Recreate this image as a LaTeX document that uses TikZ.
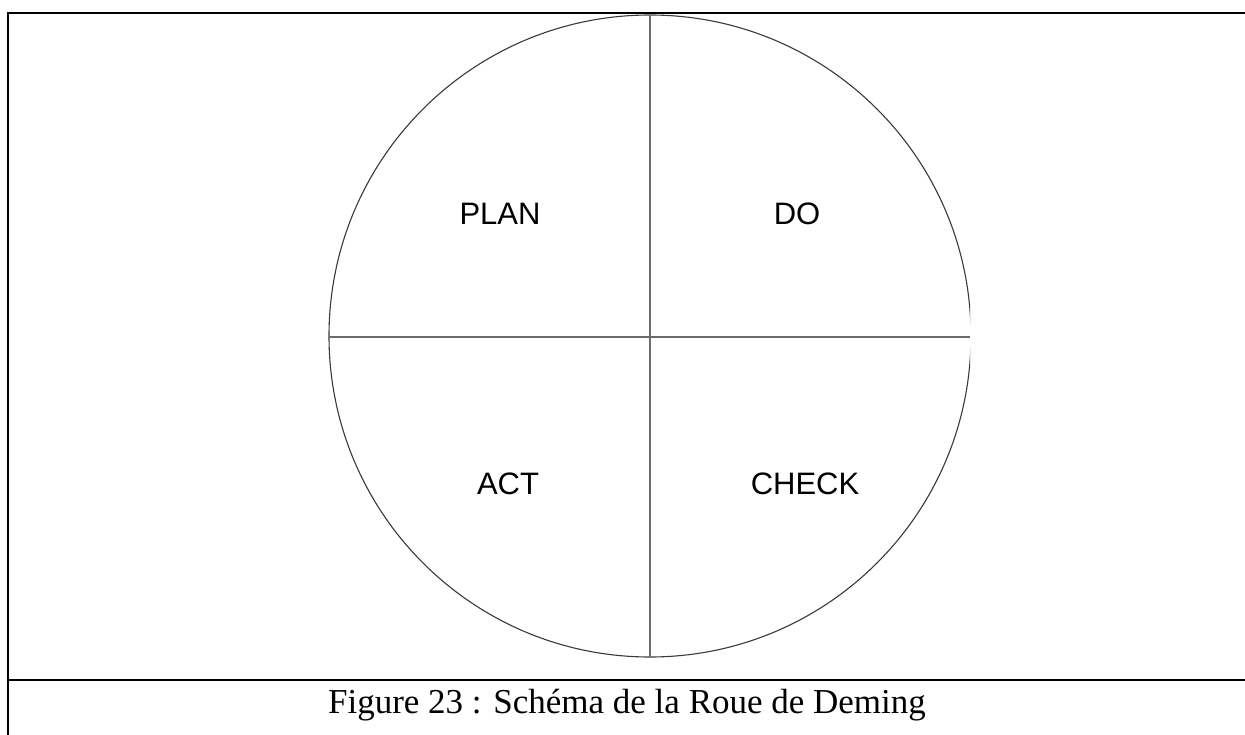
\documentclass[tikz,border=0pt]{standalone}
\usepackage{fontspec}
\setmainfont{Liberation Serif}
\setsansfont{Liberation Sans}
\usetikzlibrary{positioning}
\definecolor{cframe}{HTML}{000000}
\definecolor{cwheel}{HTML}{3A3A3A}
\definecolor{cgrey}{HTML}{6B6B6B}
\tikzset{
  every picture/.style={x=1pt, y=-1pt},
  frame/.style={draw=cframe, line width=2.2pt},
  wheel/.style={draw=cwheel, line width=1.1pt},
  axis/.style={draw=cgrey, line width=1.1pt},
  phase/.style={font=\sffamily\fontsize{31}{35}\selectfont, inner sep=0pt},
  caption/.style={font=\rmfamily\fontsize{35}{40}\selectfont, inner sep=0pt},
}

\begin{document}
\begin{tikzpicture}
  \useasboundingbox[fill=white] (0,0) rectangle (1245,735);
  % frame of the figure
  \coordinate (tl) at (8,13);
  \coordinate (tr) at (1245,13);
  \coordinate (bl) at (8,735);
  \coordinate (ml) at (8,680);
  \coordinate (mr) at (1245,680);
  \draw[frame] (bl) -- (tl) -- (tr);
  \draw[frame] (ml) -- (mr);
  % the wheel, cut on its right side
  \coordinate (c) at (650,336);
  \coordinate (n) at (650,15);
  \coordinate (s) at (650,657);
  \coordinate (w) at (329,337);
  \coordinate (e) at (970,337);
  \begin{scope}
    \clip (0,0) rectangle (970,735);
    \draw[wheel] (c) circle[radius=321];
  \end{scope}
  \draw[axis] (n) -- (s);
  \draw[axis] (w) -- (e);
  % the four phases
  \node[phase] (plan) at (500,214) {PLAN};
  \node[phase] (do) at (797,214) {DO};
  \node[phase] (act) at (508,484) {ACT};
  \node[phase] (check) at (805,484) {CHECK};
  % caption
  \node[caption] (cap) at (627,705) {Figure 23 : Schéma de la Roue de Deming};
\end{tikzpicture}
\end{document}
